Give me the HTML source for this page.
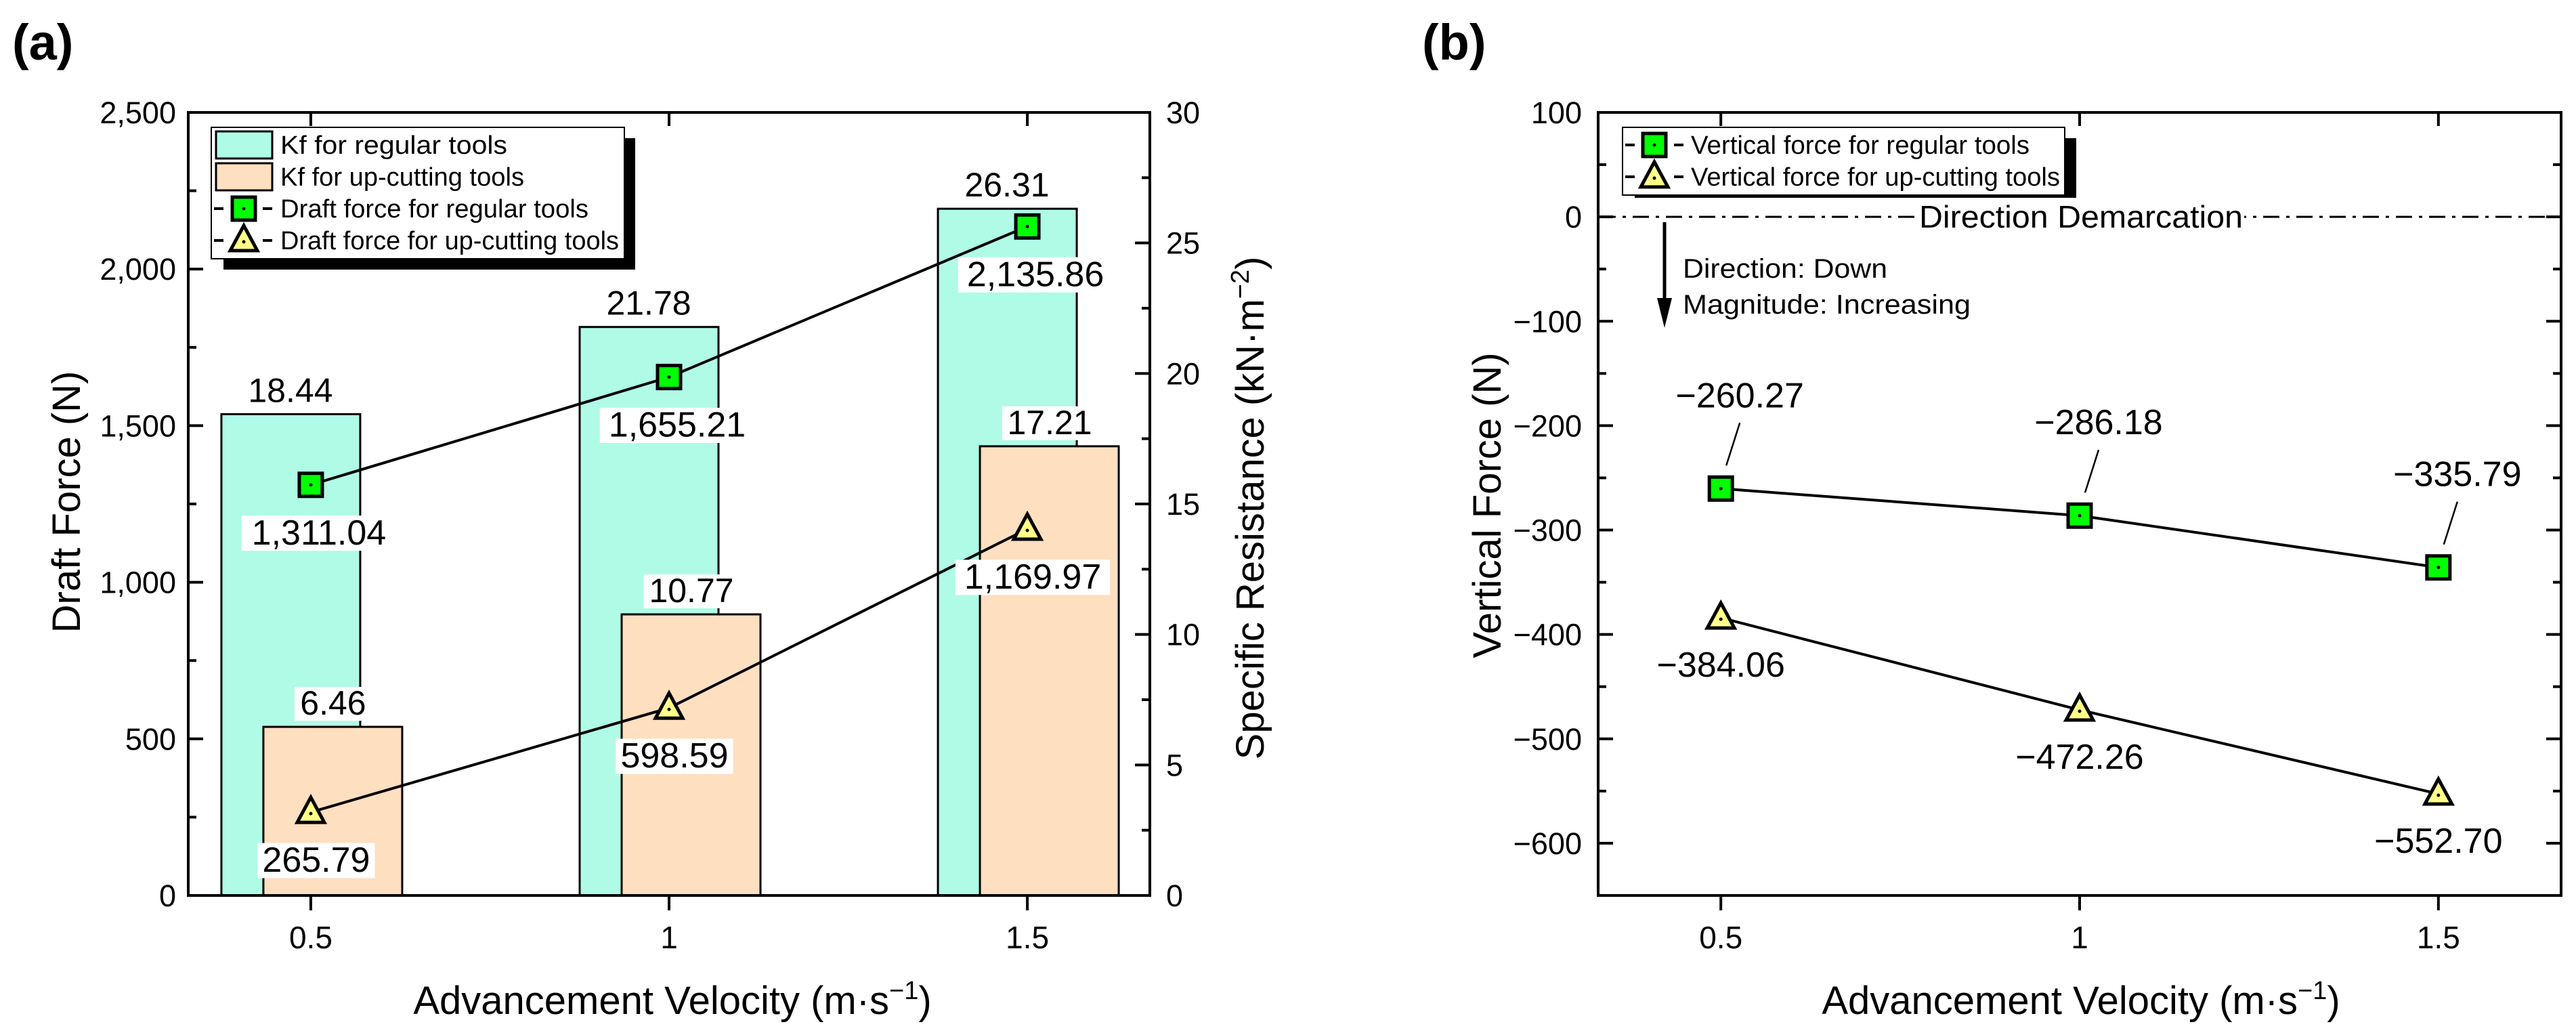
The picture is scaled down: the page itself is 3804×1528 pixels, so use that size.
<!DOCTYPE html>
<html><head><meta charset="utf-8"><style>
html,body{margin:0;padding:0;background:#fff;}
svg{display:block;font-family:"Liberation Sans",Arial,sans-serif;}
</style></head><body>
<svg id="fig" width="3804" height="1528" viewBox="0 0 3804 1528" xmlns="http://www.w3.org/2000/svg">
<rect x="0" y="0" width="3804" height="1528" fill="#fff"/>
<text x="18" y="88" font-size="74" font-weight="bold">(a)</text>
<text x="2100" y="88" font-size="74" font-weight="bold">(b)</text>
<g id="pa"></g>
<g id="pb"></g>
</svg>
<script>
const categories = [0.5, 1, 1.5];
const kfRegular = [18.44, 21.78, 26.31];
const kfUpcut = [6.46, 10.77, 17.21];
const draftRegular = [1311.04, 1655.21, 2135.86];
const draftUpcut = [265.79, 598.59, 1169.97];
const draftRegularLabels = ["1,311.04", "1,655.21", "2,135.86"];
const draftUpcutLabels = ["265.79", "598.59", "1,169.97"];
const leftTicks = [0, 500, 1000, 1500, 2000, 2500];
const leftTickLabels = ["0", "500", "1,000", "1,500", "2,000", "2,500"];
const rightTicks = [0, 5, 10, 15, 20, 25, 30];
const vertRegular = [-260.27, -286.18, -335.79];
const vertUpcut = [-384.06, -472.26, -552.70];
const vertRegularLabels = ["\u2212260.27", "\u2212286.18", "\u2212335.79"];
const vertUpcutLabels = ["\u2212384.06", "\u2212472.26", "\u2212552.70"];
const bTicks = [100, 0, -100, -200, -300, -400, -500, -600];
const bTickLabels = ["100", "0", "\u2212100", "\u2212200", "\u2212300", "\u2212400", "\u2212500", "\u2212600"];
const xTickLabels = ["0.5", "1", "1.5"];

const NS = "http://www.w3.org/2000/svg";
function mk(parent, tag, attrs, text) {
  const e = document.createElementNS(NS, tag);
  for (const k in attrs) e.setAttribute(k, attrs[k]);
  if (text !== undefined) e.textContent = text;
  parent.appendChild(e);
  return e;
}
const TOP = 166, BOT = 1322;
function xA(v) { return 278 + (v - 0.329) / 1.342 * 1420; }
function xB(v) { return 2360 + (v - 0.329) / 1.342 * 1422; }
function yL(v) { return BOT - v / 2500 * (BOT - TOP); }
function yR(v) { return BOT - v / 30 * (BOT - TOP); }
function yB(v) { return TOP + (100 - v) / 750 * (BOT - TOP); }

function square(g, x, y) {
  const r = mk(g, 'rect', {x: x - 17, y: y - 17, width: 34, height: 34, fill: '#00ff00', stroke: '#000', 'stroke-width': 5});
  
  
  mk(g, 'circle', {cx: x, cy: y, r: 2.5, fill: '#000'});
}
function tri(g, x, y) {
  const p = mk(g, 'path', {d: `M${x} ${y - 22} L${x + 20} ${y + 15} L${x - 20} ${y + 15} Z`, fill: '#ffff88', stroke: '#000', 'stroke-width': 5, 'stroke-linejoin': 'miter'});
  
  
  mk(g, 'circle', {cx: x, cy: y + 2, r: 2.5, fill: '#000'});
}
function labelBox(g, x, y, txt, fs, name) {
  const w = txt.length * fs * 0.53;
  mk(g, 'rect', {x: x - w / 2 - 4, y: y - fs * 0.82, width: w + 8, height: fs * 1.0, fill: '#fff'});
  const t = mk(g, 'text', {x: x, y: y, 'font-size': fs, 'text-anchor': 'middle'}, txt);
  
  
}

// ---------- Panel A ----------
const A = document.getElementById('pa');
categories.forEach((c, i) => {
  const cx = xA(c);
  const b1 = mk(A, 'rect', {x: cx - 132, y: yR(kfRegular[i]), width: 205, height: BOT - yR(kfRegular[i]), fill: '#b0fbe6', stroke: '#000', 'stroke-width': 3});
  
  
});
categories.forEach((c, i) => {
  const cx = xA(c);
  const b2 = mk(A, 'rect', {x: cx - 70, y: yR(kfUpcut[i]), width: 205, height: BOT - yR(kfUpcut[i]), fill: '#fedfc0', stroke: '#000', 'stroke-width': 3});
  
  
});
categories.forEach((c, i) => {
  const cx = xA(c);
  labelBox(A, cx - 30, yR(kfRegular[i]) - 18, kfRegular[i].toFixed(2), 50, 'kf-regular-value');
  labelBox(A, cx + 33, yR(kfUpcut[i]) - 18, kfUpcut[i].toFixed(2), 50, 'kf-upcutting-value');
});
// lines
const lr = mk(A, 'polyline', {points: categories.map((c, i) => xA(c) + ',' + yL(draftRegular[i])).join(' '), fill: 'none', stroke: '#000', 'stroke-width': 4});


const lu = mk(A, 'polyline', {points: categories.map((c, i) => xA(c) + ',' + yL(draftUpcut[i])).join(' '), fill: 'none', stroke: '#000', 'stroke-width': 4});


categories.forEach((c, i) => {
  square(A, xA(c), yL(draftRegular[i]));
  tri(A, xA(c), yL(draftUpcut[i]));
  labelBox(A, xA(c) + 12, yL(draftRegular[i]) + 88, draftRegularLabels[i], 52, 'draft-regular-value');
  labelBox(A, xA(c) + 8, yL(draftUpcut[i]) + 88, draftUpcutLabels[i], 52, 'draft-upcutting-value');
});
// axes frame
const fa = mk(A, 'rect', {x: 278, y: TOP, width: 1420, height: BOT - TOP, fill: 'none', stroke: '#000', 'stroke-width': 4});


leftTicks.forEach((v, i) => {
  mk(A, 'line', {x1: 278, x2: 300, y1: yL(v), y2: yL(v), stroke: '#000', 'stroke-width': 4});
  if (i < leftTicks.length - 1) mk(A, 'line', {x1: 278, x2: 290, y1: yL(v + 250), y2: yL(v + 250), stroke: '#000', 'stroke-width': 4});
  const t = mk(A, 'text', {x: 260, y: yL(v) + 16, 'font-size': 45, 'text-anchor': 'end'}, leftTickLabels[i]);
  
  
});
rightTicks.forEach((v, i) => {
  mk(A, 'line', {x1: 1698, x2: 1676, y1: yR(v), y2: yR(v), stroke: '#000', 'stroke-width': 4});
  if (i < rightTicks.length - 1) mk(A, 'line', {x1: 1698, x2: 1686, y1: yR(v + 2.5), y2: yR(v + 2.5), stroke: '#000', 'stroke-width': 4});
  const t = mk(A, 'text', {x: 1722, y: yR(v) + 16, 'font-size': 45}, String(v));
  
  
});
categories.forEach((c, i) => {
  mk(A, 'line', {x1: xA(c), x2: xA(c), y1: BOT, y2: BOT + 22, stroke: '#000', 'stroke-width': 4});
  mk(A, 'line', {x1: xA(c), x2: xA(c), y1: TOP, y2: TOP + 20, stroke: '#000', 'stroke-width': 4});
  const t = mk(A, 'text', {x: xA(c), y: 1400, 'font-size': 46, 'text-anchor': 'middle'}, xTickLabels[i]);
  
  
});
// titles
const at1 = mk(A, 'text', {x: 0, y: 0, 'font-size': 58, 'text-anchor': 'middle', transform: 'translate(118,741) rotate(-90)'}, 'Draft Force (N)');


const at2 = mk(A, 'text', {x: 0, y: 0, 'font-size': 58, 'text-anchor': 'middle', transform: 'translate(1866,750) rotate(-90)'});


at2.innerHTML = 'Specific Resistance (kN·m<tspan dy="-22" font-size="38">−2</tspan><tspan dy="22">)</tspan>';
const at3 = mk(A, 'text', {x: 993, y: 1497, 'font-size': 58, 'text-anchor': 'middle'});


at3.innerHTML = 'Advancement Velocity (m·s<tspan dy="-22" font-size="38">−1</tspan><tspan dy="22">)</tspan>';
// legend a
const LA = mk(A, 'g', {});


mk(LA, 'rect', {x: 330, y: 204, width: 608, height: 194, fill: '#000'});
mk(LA, 'rect', {x: 312, y: 188, width: 610, height: 194, fill: '#fff', stroke: '#000', 'stroke-width': 2});
const legA = ['Kf for regular tools', 'Kf for up-cutting tools', 'Draft force for regular tools', 'Draft force for up-cutting tools'];
const legAy = [214, 261, 308, 355];
legA.forEach((s, i) => {
  const y = legAy[i];
  if (i === 0) mk(LA, 'rect', {x: 319, y: y - 20, width: 83, height: 40, fill: '#b0fbe6', stroke: '#000', 'stroke-width': 3});
  if (i === 1) mk(LA, 'rect', {x: 319, y: y - 20, width: 83, height: 40, fill: '#fedfc0', stroke: '#000', 'stroke-width': 3});
  if (i >= 2) {
    mk(LA, 'line', {x1: 316, x2: 405, y1: y, y2: y, stroke: '#000', 'stroke-width': 4, 'stroke-dasharray': '14 22'});
    if (i === 2) square(LA, 360, y); else tri(LA, 360, y);
  }
  const t = mk(LA, 'text', {x: 414, y: y + 13, 'font-size': 38, textLength: [335, 360, 455, 500][i], lengthAdjust: 'spacingAndGlyphs'}, s);
  
  
});

// ---------- Panel B ----------
const B = document.getElementById('pb');
// dash-dot zero line
const z = mk(B, 'line', {x1: 2362, x2: 3780, y1: yB(0), y2: yB(0), stroke: '#000', 'stroke-width': 3, 'stroke-dasharray': '24 10 5 10'});


mk(B, 'rect', {x: 2832, y: yB(0) - 26, width: 482, height: 50, fill: '#fff'});
const dd = mk(B, 'text', {x: 3073, y: yB(0) + 16, 'font-size': 46, 'text-anchor': 'middle', textLength: 478, lengthAdjust: 'spacingAndGlyphs'}, 'Direction Demarcation');


const ar = mk(B, 'line', {x1: 2458, x2: 2458, y1: 328, y2: 445, stroke: '#000', 'stroke-width': 5});


mk(B, 'path', {d: 'M2447 440 L2469 440 L2458 484 Z', fill: '#000'});
const n1 = mk(B, 'text', {x: 2485, y: 410, 'font-size': 40, textLength: 302, lengthAdjust: 'spacingAndGlyphs'}, 'Direction: Down');


const n2 = mk(B, 'text', {x: 2485, y: 463, 'font-size': 40, textLength: 425, lengthAdjust: 'spacingAndGlyphs'}, 'Magnitude: Increasing');



const br = mk(B, 'polyline', {points: categories.map((c, i) => xB(c) + ',' + yB(vertRegular[i])).join(' '), fill: 'none', stroke: '#000', 'stroke-width': 4});


const bu = mk(B, 'polyline', {points: categories.map((c, i) => xB(c) + ',' + yB(vertUpcut[i])).join(' '), fill: 'none', stroke: '#000', 'stroke-width': 4});


categories.forEach((c, i) => {
  const x = xB(c), yr = yB(vertRegular[i]), yu = yB(vertUpcut[i]);
  mk(B, 'line', {x1: x + 8, y1: yr - 34, x2: x + 28, y2: yr - 97, stroke: '#000', 'stroke-width': 2.5});
  labelBox(B, x + 28, yr - 120, vertRegularLabels[i], 52, 'vertical-regular-value');
  square(B, x, yr);
  tri(B, x, yu);
  labelBox(B, x, yu + 87, vertUpcutLabels[i], 52, 'vertical-upcutting-value');
});
const fb = mk(B, 'rect', {x: 2360, y: TOP, width: 1422, height: BOT - TOP, fill: 'none', stroke: '#000', 'stroke-width': 4});


bTicks.forEach((v, i) => {
  mk(B, 'line', {x1: 2360, x2: 2382, y1: yB(v), y2: yB(v), stroke: '#000', 'stroke-width': 4});
  mk(B, 'line', {x1: 3782, x2: 3760, y1: yB(v), y2: yB(v), stroke: '#000', 'stroke-width': 4});
  mk(B, 'line', {x1: 2360, x2: 2372, y1: yB(v - 50), y2: yB(v - 50), stroke: '#000', 'stroke-width': 4});
  mk(B, 'line', {x1: 3782, x2: 3770, y1: yB(v - 50), y2: yB(v - 50), stroke: '#000', 'stroke-width': 4});
  const t = mk(B, 'text', {x: 2336, y: yB(v) + 16, 'font-size': 45, 'text-anchor': 'end'}, bTickLabels[i]);
  
  
});
categories.forEach((c, i) => {
  mk(B, 'line', {x1: xB(c), x2: xB(c), y1: BOT, y2: BOT + 22, stroke: '#000', 'stroke-width': 4});
  mk(B, 'line', {x1: xB(c), x2: xB(c), y1: TOP, y2: TOP + 20, stroke: '#000', 'stroke-width': 4});
  const t = mk(B, 'text', {x: xB(c), y: 1400, 'font-size': 46, 'text-anchor': 'middle'}, xTickLabels[i]);
  
  
});
const bt1 = mk(B, 'text', {x: 0, y: 0, 'font-size': 58, 'text-anchor': 'middle', transform: 'translate(2216,746) rotate(-90)'}, 'Vertical Force (N)');


const bt2 = mk(B, 'text', {x: 3073, y: 1497, 'font-size': 58, 'text-anchor': 'middle'});


bt2.innerHTML = 'Advancement Velocity (m·s<tspan dy="-22" font-size="38">−1</tspan><tspan dy="22">)</tspan>';
// legend b
const LB = mk(B, 'g', {});


mk(LB, 'rect', {x: 2414, y: 204, width: 652, height: 88, fill: '#000'});
mk(LB, 'rect', {x: 2396, y: 188, width: 653, height: 100, fill: '#fff', stroke: '#000', 'stroke-width': 2});
const legB = ['Vertical force for regular tools', 'Vertical force for up-cutting tools'];
const legBy = [214, 261];
legB.forEach((s, i) => {
  const y = legBy[i];
  mk(LB, 'line', {x1: 2400, x2: 2488, y1: y, y2: y, stroke: '#000', 'stroke-width': 4, 'stroke-dasharray': '14 22'});
  if (i === 0) square(LB, 2443, y); else tri(LB, 2443, y);
  const t = mk(LB, 'text', {x: 2497, y: y + 13, 'font-size': 38, textLength: [500, 545][i], lengthAdjust: 'spacingAndGlyphs'}, s);
  
  
});
</script>
</body></html>
